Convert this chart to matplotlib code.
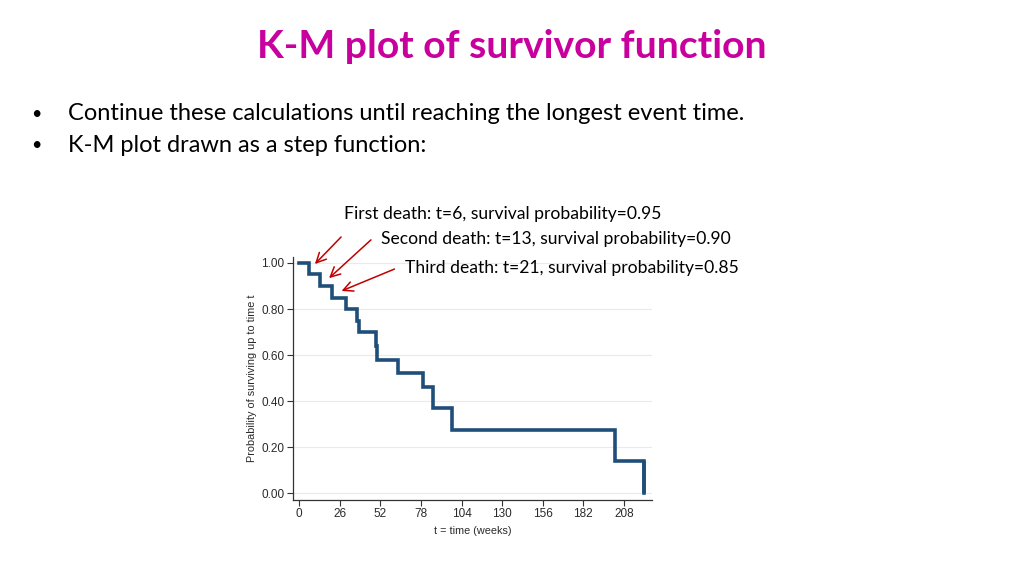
import matplotlib
matplotlib.use("Agg")
import matplotlib.pyplot as plt

# Data
times = [0, 6, 13, 21, 30, 37, 38, 49, 50, 63, 79, 86, 98, 202, 221]
surv = [1.00, 0.95, 0.90, 0.85, 0.80, 0.75, 0.70, 0.64, 0.58, 0.52, 0.46, 0.37, 0.275, 0.14, 0.0]
end_time = 221
xticks = [0, 26, 52, 78, 104, 130, 156, 182, 208]
yticks = [0.0, 0.2, 0.4, 0.6, 0.8, 1.0]
title = "K-M plot of survivor function"
bullets = ["Continue these calculations until reaching the longest event time.",
           "K-M plot drawn as a step function:"]
notes = ["First death: t=6, survival probability=0.95",
         "Second death: t=13, survival probability=0.90",
         "Third death: t=21, survival probability=0.85"]

W, H = 1024, 576
fig = plt.figure(figsize=(W / 100, H / 100), dpi=100)
fig.patch.set_facecolor("white")

def fx(px):
    return px / W

def fy(py):
    return 1 - py / H

text_font = ["Lato", "DejaVu Sans"]
fig.text(fx(512), fy(47), title, ha="center", va="center", fontsize=28.2,
         fontweight="bold", color="#C8009E", family=text_font)
for i, b in enumerate(bullets):
    y = fy(114 + 31 * i)
    fig.text(fx(31), y, "•", ha="left", va="center", fontsize=13, color="black", family=text_font)
    fig.text(fx(68), y, b, ha="left", va="center", fontsize=17, color="black", family=text_font)

note_pos = [(344, 214), (381, 239), (405, 268)]
for (px, py), t in zip(note_pos, notes):
    fig.text(fx(px), fy(py), t, ha="left", va="center", fontsize=12.6, color="black", family=text_font)

ax = fig.add_axes([fx(293), fy(500), fx(652) - fx(293), fy(257) - fy(500)])
ax.step(times + [end_time], surv + [surv[-1]], where="post", color="#1F4E79", lw=2.6,
        solid_joinstyle="miter")
ax.vlines(end_time, 0, surv[-2], color="#1F4E79", lw=2.6)
ax.set_xlim(-4, 226)
ax.set_ylim(-0.03, 1.026)
ax.set_xticks(xticks)
ax.set_yticks(yticks)
ax.set_yticklabels([f"{v:.2f}" for v in yticks])
for s in ["top", "right"]:
    ax.spines[s].set_visible(False)
for s in ["left", "bottom"]:
    ax.spines[s].set_color("#333333")
    ax.spines[s].set_linewidth(0.9)
ax.tick_params(axis="both", length=4, width=0.8, color="#333333", labelsize=8.5,
               labelcolor="#2a2a2a", pad=2)
for lab in ax.get_xticklabels() + ax.get_yticklabels():
    lab.set_family(["Liberation Sans", "DejaVu Sans"])
ax.grid(axis="y", color="#EAEAEA", lw=0.8)
ax.set_axisbelow(True)
ax.set_xlabel("t = time (weeks)", fontsize=7.8, family=["Liberation Sans"], color="#2a2a2a", labelpad=4)
ax.set_ylabel("Probability of surviving up to time t", fontsize=7.8, family=["Liberation Sans"],
              color="#2a2a2a", labelpad=3)

arrows = [((343, 235), (313, 266)), ((373, 238), (327, 280)), ((397, 268), (339, 292))]
for (sx, sy), (ex, ey) in arrows:
    fig.add_artist(matplotlib.patches.FancyArrowPatch(
        (fx(sx), fy(sy)), (fx(ex), fy(ey)), transform=fig.transFigure,
        arrowstyle="->,head_length=7,head_width=3.5", color="#C00000", lw=1.1))

fig.savefig("out.png", dpi=100)
